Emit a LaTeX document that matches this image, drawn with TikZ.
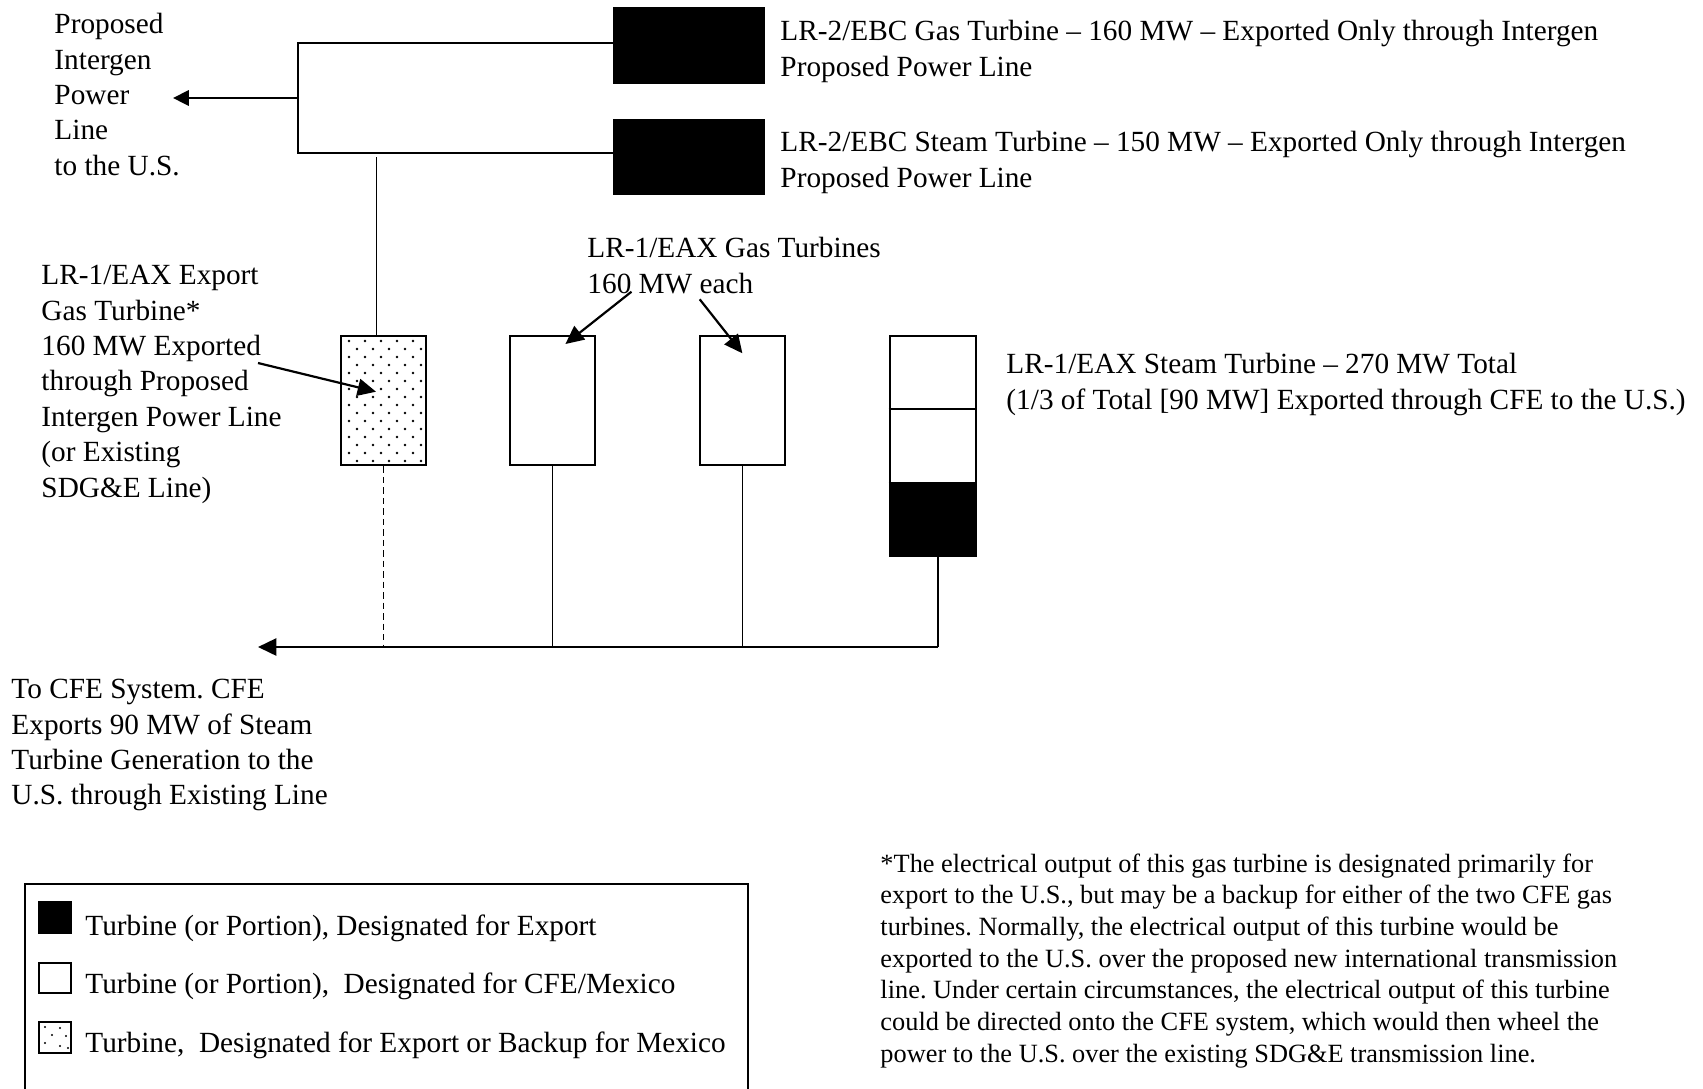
\documentclass[tikz,border=0pt]{standalone}
\usepackage{fontspec}
\setmainfont{Liberation Serif}
\usetikzlibrary{arrows.meta,fit,calc}
\frenchspacing
\begin{document}
\begin{tikzpicture}[x=0.41pt,y=-0.41pt,
  box/.style={draw,line width=1.1pt,inner sep=0pt},
  blk/.style={fill=black,draw=black,line width=0.6pt,inner sep=0pt},
  wire/.style={line width=0.9pt},
  thinw/.style={line width=0.7pt},
  arr/.style={line width=0.9pt,-{Triangle[length=7.5pt,width=7pt]}},
  sarr/.style={line width=0.9pt,-{Triangle[length=6.5pt,width=6.3pt]}},
  lbl/.style={anchor=north west,inner sep=0pt,align=left,font=\fontsize{12}{14.5}\selectfont},
  note/.style={anchor=north west,inner sep=0pt,align=left,font=\fontsize{10.8}{13}\selectfont},
  dot/.style={fill=black}
]
\useasboundingbox (0,0) rectangle (1703,1088);

% LR-2 black boxes
\node[blk,fit={(614,8)(764,83)}] (lr2g) {};
\node[blk,fit={(614,120)(764,194)}] (lr2s) {};
\node[lbl] (t1) at (780,20) {LR-2/EBC Gas Turbine – 160 MW – Exported Only through Intergen\\Proposed Power Line};
\node[lbl] (t2) at (780,131) {LR-2/EBC Steam Turbine – 150 MW – Exported Only through Intergen\\Proposed Power Line};

% bracket to Intergen line
\node[lbl] (pil) at (54,13) {Proposed\\Intergen\\Power\\Line\\to the U.S.};
\coordinate (bj) at (298,98);
\coordinate (ustip) at (173,98);
\draw[wire] (lr2g.west |- 0,43) -| (bj) |- (lr2s.west |- 0,153);
\draw[sarr] (bj) -- (ustip);

% LR-1 export gas turbine (dotted)
\node[box,fit={(341,336)(426,465)}] (gte) {};
\foreach \j in {0,...,15}{
  \pgfmathsetmacro\off{mod(\j,2)*8}
  \foreach \i in {0,...,4}{
    \fill[dot] (349+\off+16*\i,341+8*\j) circle (0.55pt);
  }
}
\coordinate (gttop) at (376.5,157);
\draw[thinw] (gttop) -- (gttop |- gte.north);

% LR-1 gas turbines
\node[box,fit={(510,336)(595,465)}] (gt1) {};
\node[box,fit={(700,336)(785,465)}] (gt2) {};

% LR-1 steam turbine
\node[blk,fit={(890,483)(976,556)}] (stx) {};
\node[box,fit={(890,336)(976,556)}] (st) {};
\draw[line width=1.1pt] (st.west |- 0,409) -- (st.east |- 0,409);
\draw[line width=1.1pt] (st.west |- 0,483) -- (st.east |- 0,483);

% labels
\node[lbl] (gtl) at (587,237) {LR-1/EAX Gas Turbines\\160 MW each};
\node[lbl] (stl) at (1006,353) {LR-1/EAX Steam Turbine – 270 MW Total\\(1/3 of Total [90 MW] Exported through CFE to the U.S.)};
\node[lbl] (exl) at (41,265) {LR-1/EAX Export\\Gas Turbine*\\160 MW Exported\\through Proposed\\Intergen Power Line\\(or Existing\\SDG\&E Line)};
\node[lbl] (cfel) at (11,679) {To CFE System. CFE\\Exports 90 MW of Steam\\Turbine Generation to the\\U.S. through Existing Line};

% label arrows
\coordinate (a1s) at (631.5,291.7);
\coordinate (a1t) at (565.4,344);
\coordinate (a2s) at (699.7,299.3);
\coordinate (a2t) at (742.4,353.3);
\coordinate (a3s) at (258,363);
\coordinate (a3t) at (376,391.7);
\draw[arr] (a1s) -- (a1t);
\draw[arr] (a2s) -- (a2t);
\draw[arr] (a3s) -- (a3t);

% CFE bus
\coordinate (cfetip) at (258,647);
\coordinate (stdrop) at ($(st.south)+(5,0)$);
\coordinate (bus) at (stdrop |- cfetip);
\draw[thinw] (gt1.south) -- (gt1.south |- bus);
\draw[thinw] (gt2.south) -- (gt2.south |- bus);
\draw[thinw] (stdrop) -- (bus);
\draw[thinw,dash pattern=on 2.6pt off 1.7pt] (gte.south) -- (gte.south |- bus);
\draw[arr] (bus) -- (cfetip);

% legend
\coordinate (lgbl) at (25,1095);
\coordinate (lgbr) at (748,1095);
\draw[line width=1pt] (lgbl) -- (25,884) -- (748,884) -- (lgbr);
\node[blk,fit={(39,902)(71,933)}] (lk1) {};
\node[box,line width=0.8pt,fit={(39,963)(71,993)}] (lk2) {};
\node[box,line width=0.8pt,fit={(39,1022)(71,1053)}] (lk3) {};
\foreach \p in {(45,1027),(60,1028),(52,1035),(66,1036),(45,1043),(60,1046),(68,1048)}{
  \fill[dot] \p circle (0.45pt);
}
\node[lbl] (lg1) at (85,914) {Turbine (or Portion), Designated for Export};
\node[lbl] (lg2) at (85,972) {Turbine (or Portion),\ \ Designated for CFE/Mexico};
\node[lbl] (lg3) at (85,1031) {Turbine,\ \ Designated for Export or Backup for Mexico};

% footnote
\node[note] (fn) at (880,853) {*The electrical output of this gas turbine is designated primarily for\\export to the U.S., but may be a backup for either of the two CFE gas\\turbines. Normally, the electrical output of this turbine would be\\exported to the U.S. over the proposed new international transmission\\line. Under certain circumstances, the electrical output of this turbine\\could be directed onto the CFE system, which would then wheel the\\power to the U.S. over the existing SDG\&E transmission line.};
\end{tikzpicture}
\end{document}
